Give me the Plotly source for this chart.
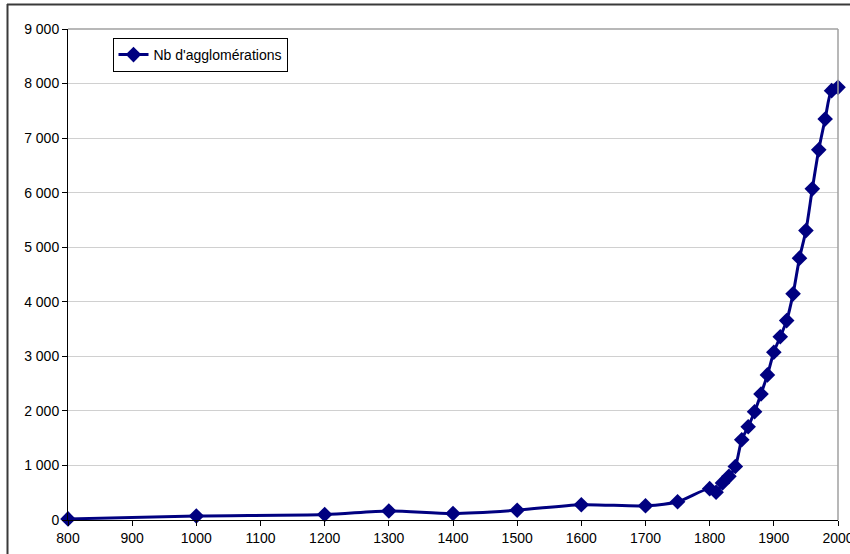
import plotly.graph_objects as go

# Number of urban agglomerations by year
years = [800, 1000, 1200, 1300, 1400, 1500, 1600, 1700, 1750, 1800, 1810,
         1820, 1830, 1840, 1850, 1860, 1870, 1880, 1890, 1900, 1910, 1920,
         1930, 1940, 1950, 1960, 1970, 1980, 1990, 2000]
counts = [20, 73, 100, 165, 120, 180, 280, 260, 335, 575, 510,
          680, 800, 980, 1470, 1710, 1985, 2310, 2660, 3075, 3360, 3655,
          4145, 4800, 5305, 6070, 6785, 7350, 7870, 7930]

series_name = "Nb d'agglomérations"
navy = "#000080"

W, H = 850, 554
L, R, T, B = 68, 838, 29, 520  # plot area in pixels

fig = go.Figure()
fig.add_trace(go.Scatter(
    x=years, y=counts, name=series_name, mode="lines+markers",
    line=dict(color=navy, width=3, shape="spline", smoothing=0.8),
    marker=dict(symbol="diamond", size=12, color=navy),
    cliponaxis=False,
))

def px_x(p):
    return (p - L) / (R - L)

def px_y(p):
    return (B - p) / (B - T)

shapes = [
    # grey frame on top and right of the plot area
    dict(type="line", xref="paper", yref="paper", x0=0, x1=1, y0=1, y1=1,
         line=dict(color="#a0a0a0", width=1.5)),
    dict(type="line", xref="paper", yref="paper", x0=1, x1=1, y0=0, y1=1,
         line=dict(color="#a0a0a0", width=1.5)),
    # outer chart border
    dict(type="line", xref="paper", yref="paper", x0=px_x(7), x1=px_x(900),
         y0=px_y(4.5), y1=px_y(4.5), line=dict(color="#3a3a3a", width=2)),
    dict(type="line", xref="paper", yref="paper", x0=px_x(7.5), x1=px_x(7.5),
         y0=px_y(4), y1=px_y(600), line=dict(color="#3a3a3a", width=2)),
]

tick_font = dict(family="Liberation Sans, Arial, sans-serif", size=14, color="black")

fig.update_layout(
    width=W, height=H,
    margin=dict(l=L, r=W - R, t=T, b=H - B, pad=0, autoexpand=False),
    paper_bgcolor="white", plot_bgcolor="white",
    font=dict(family="Liberation Sans, Arial, sans-serif", size=14, color="black"),
    separators=". ",
    showlegend=True,
    legend=dict(
        x=px_x(112.5), y=px_y(38), xanchor="left", yanchor="top",
        bordercolor="black", borderwidth=1, bgcolor="white",
        font=dict(size=14), itemwidth=30, tracegroupgap=0,
    ),
    shapes=shapes,
)
fig.update_xaxes(
    range=[800, 2000], dtick=100, tick0=800,
    showgrid=False, zeroline=False, automargin=False,
    showline=True, linecolor="black", linewidth=1,
    ticks="outside", ticklen=5, tickcolor="black",
    ticklabeloverflow="allow", tickfont=tick_font,
)
fig.update_yaxes(
    range=[0, 9000], dtick=1000, tickformat=",d",
    showgrid=True, gridcolor="#d0d0d0", gridwidth=1, zeroline=False,
    automargin=False,
    showline=True, linecolor="black", linewidth=1,
    ticks="outside", ticklen=5, tickcolor="black", tickfont=tick_font,
)

fig.write_html("out.html")
